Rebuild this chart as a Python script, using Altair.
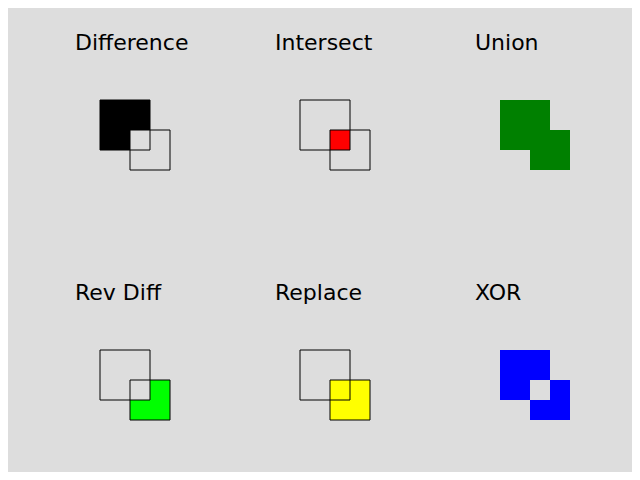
import altair as alt
import pandas as pd

titles = ["Difference", "Intersect", "Union", "Rev Diff", "Replace", "XOR"]
col_off = [0, 200, 400, 0, 200, 400]
row_off = [0, 0, 0, 250, 250, 250]
colors = ["#000000", "#ff0000", "#008000", "#00ff00", "#ffff00", "#0000ff"]
fill_a = [1, 0, 1, 0, 0, 1]
fill_b = [0, 0, 1, 1, 1, 1]
fill_i = [0, 1, 1, 0, 1, 0]
outline = [1, 1, 0, 1, 1, 0]
BG = "#dddddd"
A = (100, 150, 100, 150)
B = (130, 170, 130, 170)
I = (130, 150, 130, 150)

fills, strokes, texts = [], [], []
order = 0
for k, t in enumerate(titles):
    dx, dy = col_off[k], row_off[k]
    texts.append({"x": 75 + dx, "y": 50 + dy, "t": t})
    def add(r, c):
        global order
        fills.append({"x": r[0] + dx, "x2": r[1] + dx, "y": r[2] + dy, "y2": r[3] + dy, "c": c, "o": order})
        order += 1
    if fill_a[k]:
        add(A, colors[k])
    if fill_b[k]:
        add(B, colors[k])
    add(I, colors[k] if fill_i[k] else BG)
    if outline[k]:
        for r in (A, B):
            strokes.append({"x": r[0] + dx, "x2": r[1] + dx, "y": r[2] + dy, "y2": r[3] + dy})

xs = alt.Scale(domain=[8, 632])
ys = alt.Scale(domain=[472, 8])
X = lambda f: alt.X(f, type="quantitative", scale=xs, axis=None)
Y = lambda f: alt.Y(f, type="quantitative", scale=ys, axis=None)

f = alt.Chart(pd.DataFrame(fills)).mark_rect().encode(
    x=X("x"), x2="x2", y=Y("y"), y2="y2",
    color=alt.Color("c:N", scale=None), order="o:Q")
s = alt.Chart(pd.DataFrame(strokes)).mark_rect(fill=None, stroke="black", strokeWidth=1).encode(
    x=X("x"), x2="x2", y=Y("y"), y2="y2")
tx = alt.Chart(pd.DataFrame(texts)).mark_text(align="left", baseline="alphabetic", fontSize=22,
    font="DejaVu Sans", color="black").encode(x=X("x"), y=Y("y"), text="t:N")

chart = alt.layer(f, s, tx).properties(width=624, height=464, padding=0,
    autosize=alt.AutoSizeParams(type="none"), background=BG).configure_view(strokeWidth=0)
chart.save("out.html", embed_options={"renderer": "svg", "actions": False})
